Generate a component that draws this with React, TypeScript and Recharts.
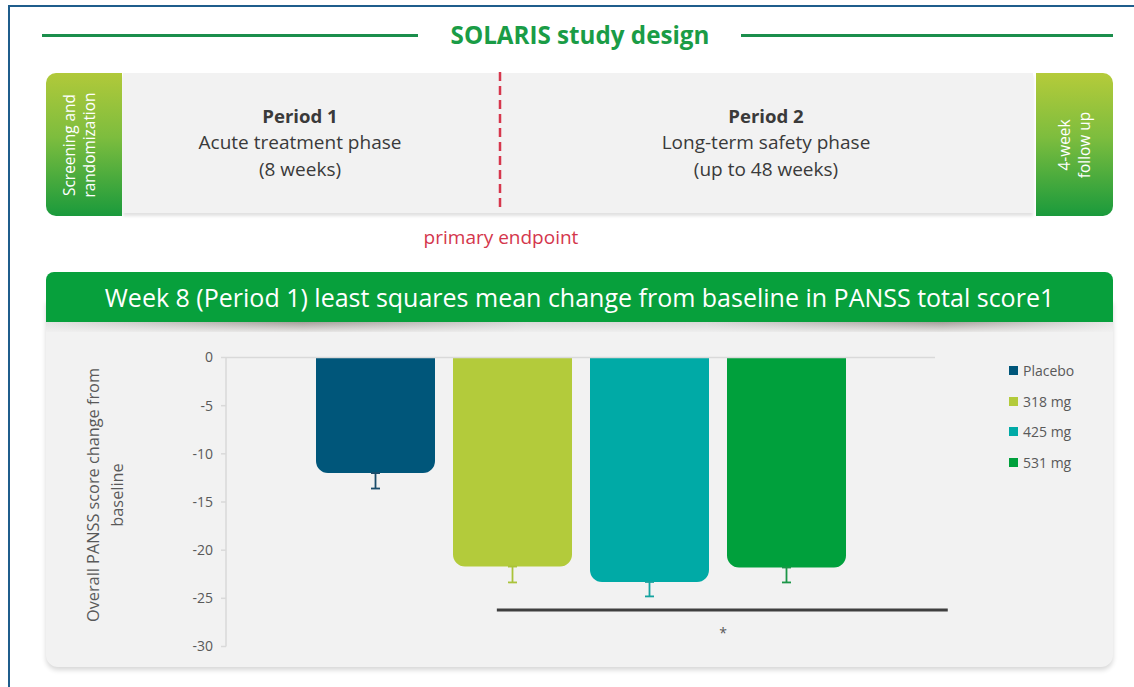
import React from 'react';
import { BarChart, Bar, XAxis, YAxis, ReferenceLine, Legend, ErrorBar } from 'recharts';

// ---------- data ----------
const categories = ['Week 8'];
const seriesNames = ['Placebo', '318 mg', '425 mg', '531 mg'];
const lsMeanChange = [-12.0, -21.7, -23.3, -21.8];
const seLower = [1.6, 1.65, 1.5, 1.55];
const yTicks = [0, -5, -10, -15, -20, -25, -30];
const significanceY = -26.2;

const seriesColors = ['#00567a', '#b3cb3b', '#00aaa6', '#00a03c'];
const errorColors = ['#1b4d6b', '#aac33a', '#15a3a0', '#1c9648'];

const data = categories.map((c) => {
  const row: any = { name: c };
  seriesNames.forEach((s, i) => {
    row[s] = lsMeanChange[i];
    row[s + '_err'] = [seLower[i], 0];
  });
  return row;
});

const FONT = '"Open Sans", "Noto Sans", sans-serif';

// ---------- chart pieces ----------
const RoundedBottomBar = (props: any) => {
  const { x, y, width, height, fill } = props;
  if (x == null || y == null || !width) return null;
  const top = Math.min(y, y + height);
  const h = Math.abs(height);
  const r = Math.min(12, h / 2, width / 2);
  const bottom = top + h;
  const d = `M${x},${top} H${x + width} V${bottom - r} A${r},${r} 0 0 1 ${x + width - r},${bottom} H${x + r} A${r},${r} 0 0 1 ${x},${bottom - r} Z`;
  return <path d={d} fill={fill} />;
};

const YLabel = (props: any) => {
  const vb = props.viewBox || { x: 0, y: 357.5, width: 226, height: 289 };
  const cy = vb.y + vb.height / 2 - 7;
  const common = {
    textAnchor: 'middle' as const,
    dominantBaseline: 'central' as const,
    fill: '#595959',
    fontSize: 16.3,
    fontFamily: FONT,
  };
  return (
    <g>
      <text x={93} y={cy} transform={`rotate(-90, 93, ${cy})`} {...common}>
        Overall PANSS score change from
      </text>
      <text x={117} y={cy} transform={`rotate(-90, 117, ${cy})`} {...common}>
        baseline
      </text>
    </g>
  );
};

const Bracket = (props: any) => {
  const { x1, x2, y1 } = props;
  if (x1 == null || x2 == null || y1 == null) return null;
  const w = x2 - x1;
  return (
    <g>
      <line x1={x1 + w * 0.382} x2={x1 + w * 1.018} y1={y1} y2={y1} stroke="#3f3f3f" strokeWidth={3} />
      <text x={x1 + w * 0.701} y={y1 + 28} textAnchor="middle" fill="#595959" fontSize={14} fontFamily={FONT}>
        *
      </text>
    </g>
  );
};

const LegendContent = () => (
  <div style={{ fontFamily: FONT, fontSize: 14, color: '#595959' }}>
    {seriesNames.map((name, i) => (
      <div key={name} style={{ display: 'flex', alignItems: 'center', height: 30.7, whiteSpace: 'nowrap' }}>
        <span style={{ display: 'inline-block', width: 9, height: 9, background: seriesColors[i], marginRight: 5 }} />
        <span>{name}</span>
      </div>
    ))}
  </div>
);

// ---------- layout helpers ----------
const abs = (s: React.CSSProperties): React.CSSProperties => ({ position: 'absolute', ...s });

const VerticalText = ({ cx, cy, lines }: { cx: number; cy: number; lines: string[] }) => (
  <div
    style={abs({
      left: cx,
      top: cy,
      transform: 'translate(-50%, -50%) rotate(-90deg)',
      whiteSpace: 'nowrap',
      textAlign: 'center',
      color: '#ffffff',
      fontSize: 15.4,
      lineHeight: '20px',
      fontFamily: FONT,
    })}
  >
    {lines.map((l) => (
      <div key={l}>{l}</div>
    ))}
  </div>
);

const PeriodText = ({ cx, lines }: { cx: number; lines: string[] }) => (
  <div
    style={abs({
      left: cx - 180,
      width: 360,
      top: 102.75,
      textAlign: 'center',
      color: '#3a3a3a',
      fontSize: 19,
      lineHeight: '26.5px',
      fontFamily: FONT,
    })}
  >
    <div style={{ fontWeight: 700, fontSize: 18.6 }}>{lines[0]}</div>
    <div>{lines[1]}</div>
    <div>{lines[2]}</div>
  </div>
);

export default function App() {
  return (
    <div
      style={abs({
        left: 0,
        top: 0,
        width: 1134,
        height: 687,
        background: '#ffffff',
        overflow: 'hidden',
        fontFamily: FONT,
      })}
    >
      {/* outer frame */}
      <div style={abs({ left: 8, top: 5, width: 1300, height: 900, borderTop: '2px solid #1f5d8c', borderLeft: '2px solid #1f5d8c' })} />

      {/* study design title */}
      <div style={abs({ left: 42, top: 34, width: 376, height: 3, background: '#1b8e4c' })} />
      <div style={abs({ left: 741, top: 34, width: 372, height: 3, background: '#1b8e4c' })} />
      <div
        style={abs({
          left: 380,
          width: 400,
          top: 20,
          lineHeight: '30px',
          textAlign: 'center',
          fontWeight: 700,
          fontSize: 24.2,
          color: '#1a9c46',
        })}
      >
        SOLARIS study design
      </div>

      {/* design row */}
      <div
        style={abs({
          left: 123,
          top: 73,
          width: 910,
          height: 140,
          background: '#f2f2f2',
          boxShadow: '0 3px 3px rgba(0,0,0,0.12)',
        })}
      />
      <div
        style={abs({
          left: 46,
          top: 73,
          width: 76,
          height: 143,
          borderRadius: '10px 0 0 10px',
          background: 'linear-gradient(to bottom, #b1c93a 0%, #7dbd3e 45%, #1a9a3c 100%)',
        })}
      />
      <div
        style={abs({
          left: 1036,
          top: 73,
          width: 77,
          height: 143,
          borderRadius: '0 10px 10px 0',
          background: 'linear-gradient(to bottom, #b5cb3a 0%, #7dbd3e 45%, #1a9a3c 100%)',
        })}
      />
      <VerticalText cx={80} cy={145} lines={['Screening and', 'randomization']} />
      <VerticalText cx={1075} cy={145} lines={['4-week', 'follow up']} />
      <PeriodText cx={300} lines={['Period 1', 'Acute treatment phase', '(8 weeks)']} />
      <PeriodText cx={766} lines={['Period 2', 'Long-term safety phase', '(up to 48 weeks)']} />
      <svg style={abs({ left: 490, top: 70, width: 20, height: 142 })} width={20} height={142}>
        <line x1={10} x2={10} y1={2} y2={138} stroke="#d6374d" strokeWidth={2.5} strokeDasharray="9 5" />
      </svg>
      <div
        style={abs({
          left: 381,
          width: 240,
          top: 224,
          lineHeight: '26px',
          textAlign: 'center',
          fontSize: 19,
          color: '#d4364c',
        })}
      >
        primary endpoint
      </div>

      {/* chart panel */}
      <div
        style={abs({
          left: 46,
          top: 300,
          width: 1067,
          height: 367,
          background: '#f2f2f2',
          borderRadius: '0 0 12px 12px',
          boxShadow: '0 3px 5px rgba(0,0,0,0.16)',
        })}
      />
      <div
        style={abs({
          left: 46,
          top: 322,
          width: 1067,
          height: 10,
          background:
            'linear-gradient(to bottom, rgba(242,242,242,0) 0%, rgba(242,242,242,0.85) 100%), linear-gradient(to right, #e4e4e4 0%, #a59f9a 24%, #d8d8d8 45%, #d8d8d8 62%, #a59f9a 84%, #e8e8e8 100%)',
        })}
      />
      <div
        style={abs({
          left: 46,
          top: 272,
          width: 1067,
          height: 50,
          background: '#07a03c',
          borderRadius: '8px 8px 0 0',
          color: '#ffffff',
          fontSize: 25,
          lineHeight: '50px',
          textAlign: 'center',
          whiteSpace: 'nowrap',
        })}
      >
        Week 8 (Period 1) least squares mean change from baseline in PANSS total score1
      </div>

      <div style={abs({ left: 0, top: 0, width: 1134, height: 687 })}>
        <BarChart
          width={1134}
          height={687}
          data={data}
          margin={{ top: 357.5, right: 199, bottom: 40.5, left: 0 }}
          barSize={119}
          barGap={18}
        >
          <XAxis dataKey="name" hide />
          <YAxis
            type="number"
            domain={[-30, 0]}
            ticks={yTicks}
            interval={0}
            width={226}
            tickSize={5}
            tickMargin={8}
            axisLine={{ stroke: '#d9d9d9', strokeWidth: 1.5 }}
            tickLine={{ stroke: '#d9d9d9', strokeWidth: 1.5 }}
            tick={{ fill: '#595959', fontSize: 14, fontFamily: FONT }}
            label={{ content: (p: any) => <YLabel {...p} /> }}
          />
          <ReferenceLine y={0} stroke="#d9d9d9" strokeWidth={1.5} />
          {seriesNames.map((s, i) => (
            <Bar key={s} dataKey={s} name={s} fill={seriesColors[i]} shape={RoundedBottomBar} isAnimationActive={false}>
              <ErrorBar dataKey={s + '_err'} width={4.5} stroke={errorColors[i]} strokeWidth={1.8} direction="y" />
            </Bar>
          ))}
          <ReferenceLine y={significanceY} shape={(p: any) => <Bracket {...p} />} />
          <Legend
            layout="horizontal"
            verticalAlign="middle"
            align="center"
            content={() => <LegendContent />}
            wrapperStyle={{ left: 1009, top: 355, width: 115, height: 'auto', right: 'auto', bottom: 'auto' }}
          />
        </BarChart>
      </div>
    </div>
  );
}
